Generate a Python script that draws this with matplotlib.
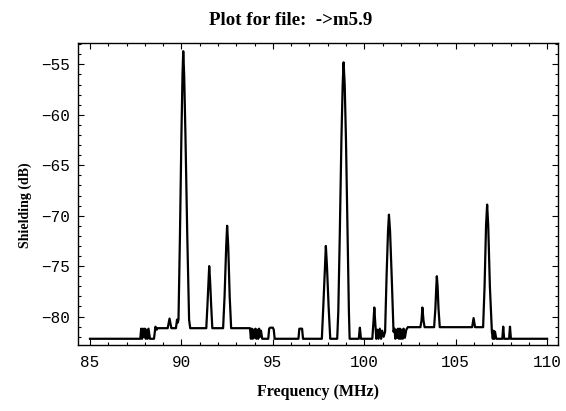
import matplotlib
matplotlib.use("Agg")
import matplotlib.pyplot as plt
from matplotlib.ticker import MultipleLocator

# polyline vertices: frequency (MHz) and shielding (dB)
freq = [85.0, 87.75,
        87.8, 87.85, 87.9, 87.95, 88.0, 88.05, 88.1, 88.15, 88.2, 88.28,
        88.5, 88.58, 88.65, 88.7, 89.25, 89.35, 89.45, 89.7, 89.76, 89.8,
        89.84, 89.92, 90.0, 90.06, 90.1, 90.15, 90.22, 90.32, 90.42, 90.48,
        91.36, 91.42, 91.48, 91.52, 91.57, 91.63, 91.69,
        92.28, 92.36, 92.45, 92.5, 92.56, 92.64, 92.72,
        93.75, 93.8, 93.85, 93.9, 93.95, 94.0, 94.05, 94.1, 94.15, 94.2, 94.25, 94.3, 94.35, 94.42,
        94.75, 94.8, 94.85, 95.0, 95.05, 95.1,
        96.4, 96.45, 96.6, 96.65,
        97.68, 97.76, 97.85, 97.9, 97.96, 98.05, 98.14,
        98.52, 98.58, 98.66, 98.75, 98.82, 98.87, 98.93, 99.0, 99.09, 99.16, 99.2,
        99.7, 99.76, 99.82,
        100.44, 100.5, 100.55, 100.6, 100.66,
        100.72, 100.78, 100.85, 100.92, 100.98, 101.06, 101.14,
        101.22, 101.3, 101.35, 101.41, 101.5, 101.6,
        101.65, 101.7, 101.75, 101.8, 101.85, 101.9, 101.95, 102.0, 102.05, 102.1, 102.15, 102.22, 102.3, 102.38,
        103.07, 103.13, 103.18, 103.24, 103.3,
        103.82, 103.89, 103.94, 103.97, 104.01, 104.06, 104.13,
        105.9, 105.98, 106.06,
        106.5, 106.58, 106.66, 106.72, 106.78, 106.87, 106.98,
        107.03, 107.07, 107.11, 107.15, 107.22,
        107.55, 107.6, 107.65, 107.92, 107.97, 108.02,
        110.0]
shielding = [-82.2, -82.2,
             -81.2, -82.2, -81.2, -82.0, -81.2, -82.2, -81.3, -82.2, -81.2, -82.2,
             -82.2, -81.0, -81.3, -81.15, -81.15, -80.2, -81.15, -81.15, -80.3, -80.6,
             -80.3, -72.0, -62.0, -56.0, -53.7, -56.0, -62.0, -72.0, -80.3, -81.15,
             -81.15, -79.0, -76.5, -75.0, -76.5, -79.0, -81.15,
             -81.15, -78.0, -73.0, -71.0, -73.0, -78.0, -81.15,
             -81.15, -82.2, -81.2, -82.2, -81.3, -82.1, -81.2, -82.2, -81.3, -82.2, -81.2, -82.0, -81.4, -82.2,
             -82.2, -81.2, -81.1, -81.1, -81.3, -82.2,
             -82.2, -81.2, -81.2, -82.2,
             -82.2, -79.0, -75.0, -73.0, -75.0, -79.0, -82.2,
             -82.2, -79.5, -72.0, -62.5, -57.0, -54.8, -57.0, -62.5, -72.0, -79.5, -82.2,
             -82.2, -81.1, -82.2,
             -82.2, -80.6, -79.1, -80.6, -82.2,
             -81.3, -82.2, -81.2, -82.2, -81.4, -82.0, -81.5,
             -76.0, -71.5, -69.9, -71.5, -76.0, -81.5,
             -81.2, -82.2, -81.3, -82.1, -81.2, -82.2, -81.2, -82.2, -81.3, -82.2, -81.2, -82.1, -81.3, -81.05,
             -81.05, -80.4, -79.1, -80.4, -81.05,
             -81.05, -79.2, -77.0, -76.0, -77.0, -79.2, -81.05,
             -81.05, -80.15, -81.05,
             -81.05, -77.0, -71.0, -68.9, -71.0, -77.0, -81.5,
             -82.2, -81.4, -82.2, -81.5, -82.2,
             -82.2, -81.0, -82.2, -82.2, -81.0, -82.2,
             -82.2]

title = "Plot for file:  ->m5.9"

fig = plt.figure(figsize=(5.66, 4.11), dpi=100)
ax = fig.add_axes([0.138, 0.161, 0.848, 0.734])

ax.plot(freq, shielding, color='black', linewidth=1.6)

ax.set_xlim(84.35, 110.6)
ax.set_ylim(-82.8, -52.9)

ax.xaxis.set_major_locator(MultipleLocator(5))
ax.xaxis.set_minor_locator(MultipleLocator(1))
ax.yaxis.set_major_locator(MultipleLocator(5))
ax.yaxis.set_minor_locator(MultipleLocator(1))
ax.tick_params(which='both', direction='in', top=True, right=True,
               labelsize=11.5, width=0.8)
ax.tick_params(which='major', length=4)
ax.tick_params(which='minor', length=2)
ax.tick_params(axis='x', pad=7)
ax.tick_params(axis='y', pad=6)
for lab in ax.get_xticklabels() + ax.get_yticklabels():
    lab.set_family('Liberation Mono')
for s in ax.spines.values():
    s.set_linewidth(1.0)

serif = 'Liberation Serif'
fig.text(0.514, 0.951, title, ha='center', va='center',
         family=serif, fontweight='bold', fontsize=13.6)
fig.text(0.044, 0.501, "Shielding (dB)", rotation=90, ha='center', va='center',
         family=serif, fontweight='bold', fontsize=10)
fig.text(0.562, 0.046, "Frequency (MHz)", ha='center', va='center',
         family=serif, fontweight='bold', fontsize=11.5)

fig.savefig('out.png', dpi=100)
